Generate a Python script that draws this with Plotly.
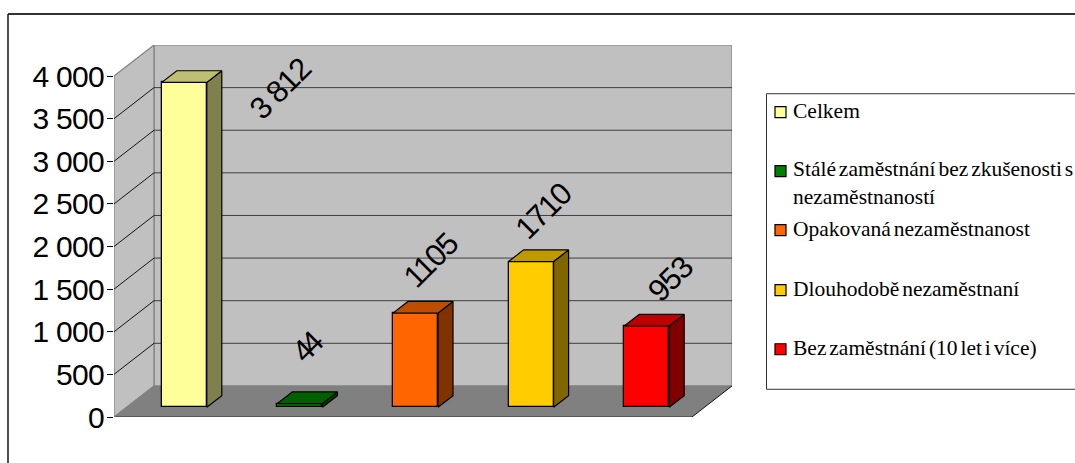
import plotly.graph_objects as go

# ---- data ----
categories = ["Celkem", "Stálé zaměstnání bez zkušenosti s<br>nezaměstnaností",
              "Opakovaná nezaměstnanost", "Dlouhodobě nezaměstnaní",
              "Bez zaměstnání (10 let i více)"]
values = [3812, 44, 1105, 1710, 953]
value_labels = ["3 812", "44", "1105", "1710", "953"]
tick_values = [0, 500, 1000, 1500, 2000, 2500, 3000, 3500, 4000]
tick_labels = ["0", "500", "1 000", "1 500", "2 000", "2 500", "3 000", "3 500", "4 000"]

# ---- colours ----
front_colors = ["#FFFF99", "#008000", "#FF6600", "#FFCC00", "#FF0000"]
top_colors = ["#BFBF73", "#006000", "#BF4D00", "#BF9900", "#BF0000"]
side_colors = ["#80804D", "#004000", "#803300", "#806600", "#800000"]

# ---- layout constants ----
W, H = 1075, 463
L, R, T, B = 114, 732, 45, 416.7           # plot area in page pixels
CAT_PX = 115.6                             # width of one category
PX_PER_UNIT = 0.085                        # pixels per value unit
DEPTH_X = 40 / CAT_PX                      # floor depth in x units
DEPTH_Y = 31 / PX_PER_UNIT                 # floor depth in y units
BAR_W = 45 / CAT_PX
BAR_D0, BAR_D1 = 0.3125, 0.6875            # bar extent along the depth axis
label_shift_px = [(96, -6), (6, 55), (15, 53), (12, 50), (23, 47)]
legend_y_px = [112, 171, 230, 290, 349]


def proj(c, v, d):
    """category position, value, depth -> axis coordinates of the oblique view"""
    return c + DEPTH_X * d, v + DEPTH_Y * d


def px(x):
    return (x - L) / (R - L)


def py(y):
    return (B - y) / (B - T)


def poly(points, **kw):
    path = "M" + " L".join(f"{x},{y}" for x, y in points) + " Z"
    return dict(type="path", path=path, xref="x", yref="y", layer="below", **kw)


def seg(a, b, color, width=1):
    return dict(type="line", x0=a[0], y0=a[1], x1=b[0], y1=b[1], xref="x", yref="y",
                layer="below", line=dict(color=color, width=width))


xl, xr = -0.5, 4.5
top = max(tick_values)
shapes = []
noline = dict(width=0)
wall = "#C0C0C0"
edge = "#808080"
# walls and floor
shapes.append(poly([proj(xl, 0, 1), proj(xr, 0, 1), proj(xr, top, 1), proj(xl, top, 1)],
                   fillcolor=wall, line=dict(color=edge, width=1.2)))
shapes.append(poly([proj(xl, 0, 0), proj(xl, 0, 1), proj(xl, top, 1), proj(xl, top, 0)],
                   fillcolor=wall, line=dict(color=edge, width=1.2)))
shapes.append(poly([proj(xl, 0, 0), proj(xr, 0, 0), proj(xr, 0, 1), proj(xl, 0, 1)],
                   fillcolor="#808080", line=noline))
# gridlines
for t in tick_values[1:-1]:
    shapes.append(seg(proj(xl, t, 0), proj(xl, t, 1), "#000000", 0.9))
    shapes.append(seg(proj(xl, t, 1), proj(xr, t, 1), "#303030", 0.9))
shapes.append(seg(proj(xl, 0, 0), proj(xr, 0, 0), "#333333", 1))
shapes.append(seg(proj(xr, 0, 0), proj(xr, 0, 1), "#000000", 0.9))
shapes.append(seg(proj(xl, 0, 0), proj(xl, 0, 1), "#808080", 0.9))

# outer chart frame (paper coordinates, runs past the page on the right and bottom)
shapes.append(dict(type="line", xref="paper", yref="paper", x0=px(8), y0=py(14), x1=px(W + 5), y1=py(14),
                   line=dict(color="#333333", width=2)))
shapes.append(dict(type="line", xref="paper", yref="paper", x0=px(8), y0=py(14), x1=px(8), y1=py(H + 5),
                   line=dict(color="#222222", width=1.6)))
# legend frame
shapes.append(dict(type="rect", xref="paper", yref="paper", x0=px(766.5), y0=py(93.7), x1=px(W + 5), y1=py(389),
                   line=dict(color="#333333", width=1), fillcolor="white", layer="below"))

fig = go.Figure()

# front faces as real bars
fig.add_trace(go.Bar(
    x=[proj(i, 0, BAR_D0)[0] for i in range(len(values))],
    y=values,
    base=DEPTH_Y * BAR_D0,
    width=BAR_W,
    marker=dict(color=front_colors, line=dict(color="black", width=1.3)),
    hoverinfo="skip", showlegend=False,
))

# side and top faces
for i, v in enumerate(values):
    hw = BAR_W / 2
    side = [proj(i + hw, 0, BAR_D0), proj(i + hw, 0, BAR_D1), proj(i + hw, v, BAR_D1), proj(i + hw, v, BAR_D0)]
    cap = [proj(i - hw, v, BAR_D0), proj(i + hw, v, BAR_D0), proj(i + hw, v, BAR_D1), proj(i - hw, v, BAR_D1)]
    for pts, col in ((side, side_colors[i]), (cap, top_colors[i])):
        pts = pts + pts[:1]
        fig.add_trace(go.Scatter(x=[p[0] for p in pts], y=[p[1] for p in pts], mode="lines",
                                 fill="toself", fillcolor=col, line=dict(color="black", width=1.2),
                                 hoverinfo="skip", showlegend=False))

annotations = []
for i, v in enumerate(values):
    x0, y0 = proj(i, v, BAR_D0)
    dx, dy = label_shift_px[i]
    annotations.append(dict(x=x0, y=y0, xref="x", yref="y", text=value_labels[i], showarrow=False,
                            xshift=dx, yshift=dy, textangle=-45,
                            font=dict(family="Liberation Sans", size=31, color="black")))
# legend
for i, name in enumerate(categories):
    y = legend_y_px[i]
    shapes.append(dict(type="rect", xref="paper", yref="paper", x0=px(775), x1=px(786), y0=py(y - 5.5), y1=py(y + 5.5),
                       fillcolor=front_colors[i], line=dict(color="black", width=1.2)))
    lines = name.count("<br>")
    annotations.append(dict(x=px(791), y=py(y - 1 + lines * 13), xref="paper", yref="paper", text=name,
                            showarrow=False, xanchor="left", yanchor="middle", align="left",
                            font=dict(family="Liberation Serif", size=21.5, color="black")))

fig.update_layout(
    width=W, height=H, autosize=False,
    margin=dict(l=L, r=W - R, t=T, b=H - B, pad=0),
    paper_bgcolor="white", plot_bgcolor="rgba(0,0,0,0)",
    shapes=shapes, annotations=annotations, showlegend=False, bargap=0,
    xaxis=dict(range=[xl, xr + DEPTH_X], visible=False),
    yaxis=dict(range=[0, top + DEPTH_Y], tickmode="array", tickvals=tick_values, ticktext=tick_labels,
               showgrid=False, zeroline=False, showline=False, ticks="outside", ticklen=6,
               tickcolor="#000000", tickwidth=1, ticklabelstandoff=-3,
               tickfont=dict(family="Liberation Sans", size=30, color="black")),
)

# tight letter spacing of the original rendering
css = (".ytick text{letter-spacing:-0.7px}"
       ".annotation-text{letter-spacing:-1.4px}"
       ".annotation[data-index='1'] text{letter-spacing:-5px}"
       ".annotation[data-index='5'] text,.annotation[data-index='6'] text,.annotation[data-index='7'] text,"
       ".annotation[data-index='8'] text,.annotation[data-index='9'] text{letter-spacing:0;word-spacing:-2.5px}")
post = ("document.body.style.margin='0';document.body.style.overflow='hidden';"
        "var s=document.createElement('style');s.textContent=%r;document.head.appendChild(s);" % css)
fig.write_html("out.html", config=dict(displayModeBar=False), post_script=post)
